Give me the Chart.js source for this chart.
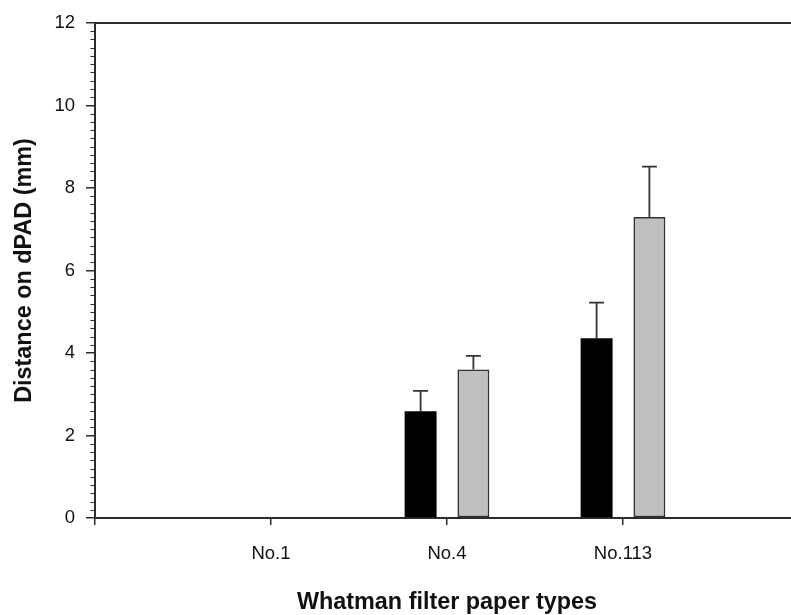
<!DOCTYPE html>
<html>
<head>
<meta charset="utf-8">
<script src="https://cdn.jsdelivr.net/npm/chart.js@4"></script>
<style>
  html, body { margin: 0; padding: 0; background: #ffffff; overflow: hidden; }
  #wrap { width: 817px; height: 615px; }
</style>
</head>
<body>
<div id="wrap"><canvas id="c" width="817" height="615"></canvas></div>
<script>
// ---- data ----
const categories = ['No.1', 'No.4', 'No.113'];
const seriesBlack = [0, 2.59, 4.36];
const errorsBlack = [0, 0.49, 0.86];
const seriesGray = [0, 3.60, 7.30];
const errorsGray = [0, 0.33, 1.22];
const yTickValues = [0, 2, 4, 6, 8, 10, 12];
const yMinorStep = 0.2;
const xTitle = 'Whatman filter paper types';
const yTitle = 'Distance on dPAD (mm)';

const FONT = "'Liberation Sans', Arial, sans-serif";
const AXIS = '#2b2b2b';

function toPoints(vals) {
  return vals.map((v, i) => ({ x: i + 1, y: v }));
}

const errorBars = {
  id: 'errorBars',
  afterDatasetsDraw(chart) {
    const ctx = chart.ctx;
    const ys = chart.scales.y;
    chart.data.datasets.forEach((ds, di) => {
      const meta = chart.getDatasetMeta(di);
      meta.data.forEach((bar, j) => {
        const err = ds.errors[j];
        const val = ds.data[j].y;
        if (!err) return;
        const yTop = ys.getPixelForValue(val + err);
        ctx.save();
        ctx.strokeStyle = '#333333';
        ctx.lineWidth = 1.8;
        ctx.beginPath();
        ctx.moveTo(bar.x, bar.y);
        ctx.lineTo(bar.x, yTop);
        ctx.moveTo(bar.x - 7.5, yTop);
        ctx.lineTo(bar.x + 7.5, yTop);
        ctx.stroke();
        ctx.restore();
      });
    });
  }
};

const frame = {
  id: 'frame',
  afterDraw(chart) {
    const ctx = chart.ctx;
    const a = chart.chartArea;
    const ys = chart.scales.y;
    ctx.save();
    ctx.strokeStyle = AXIS;
    ctx.lineWidth = 2;
    // top frame line
    ctx.beginPath();
    ctx.moveTo(a.left, a.top);
    ctx.lineTo(chart.width, a.top);
    ctx.stroke();
    // minor ticks on y axis
    const majors = new Set(yTickValues.map(v => Math.round(v * 10)));
    const yMax = yTickValues[yTickValues.length - 1];
    ctx.lineWidth = 1.2;
    ctx.beginPath();
    for (let k = 0; k * yMinorStep <= yMax + 1e-9; k++) {
      const v = k * yMinorStep;
      if (majors.has(Math.round(v * 10))) continue;
      const py = Math.round(ys.getPixelForValue(v)) + 0.5;
      ctx.moveTo(a.left - 4.5, py);
      ctx.lineTo(a.left, py);
    }
    ctx.stroke();
    ctx.restore();
  }
};

new Chart(document.getElementById('c'), {
  type: 'bar',
  data: {
    datasets: [
      {
        label: 'A',
        data: toPoints(seriesBlack),
        errors: errorsBlack,
        backgroundColor: '#000000',
        borderColor: '#000000',
        borderWidth: 0
      },
      {
        label: 'B',
        data: toPoints(seriesGray),
        errors: errorsGray,
        backgroundColor: '#c0c0c0',
        borderColor: '#333333',
        borderWidth: 1.8,
        borderSkipped: false
      }
    ]
  },
  options: {
    responsive: false,
    animation: false,
    devicePixelRatio: 1,
    categoryPercentage: 0.6,
    barPercentage: 0.605,
    layout: { padding: { top: 23, right: 12, bottom: 0, left: 0 } },
    plugins: {
      legend: { display: false },
      tooltip: { enabled: false }
    },
    scales: {
      x: {
        type: 'linear',
        offset: false,
        min: 0,
        max: categories.length + 1,
        afterBuildTicks(scale) {
          const t = [];
          for (let i = 0; i <= categories.length + 1; i++) t.push({ value: i });
          scale.ticks = t;
        },
        afterFit(scale) { scale.height = 97; },
        grid: {
          offset: false,
          drawOnChartArea: false,
          drawTicks: true,
          tickLength: 7,
          color: AXIS,
          lineWidth: 1.5
        },
        border: { display: true, color: AXIS, width: 2 },
        ticks: {
          padding: 18,
          color: '#111111',
          font: { family: FONT, size: 18.5 },
          maxRotation: 0,
          autoSkip: false,
          callback: (v) => categories[v - 1] || ''
        },
        title: {
          display: true,
          text: xTitle,
          color: '#111111',
          font: { family: FONT, size: 23.4, weight: 'bold', lineHeight: 1.1 },
          padding: { top: 0, bottom: 0 }
        }
      },
      y: {
        min: yTickValues[0],
        max: yTickValues[yTickValues.length - 1],
        afterBuildTicks(scale) {
          scale.ticks = yTickValues.map(v => ({ value: v }));
        },
        afterFit(scale) { scale.width = 95; },
        grid: {
          drawOnChartArea: false,
          drawTicks: true,
          tickLength: 9,
          color: AXIS,
          lineWidth: 1.5
        },
        border: { display: true, color: AXIS, width: 2 },
        ticks: {
          padding: 11,
          color: '#111111',
          font: { family: FONT, size: 18.5 },
          callback: (v) => String(v)
        },
        title: {
          display: true,
          text: yTitle,
          color: '#111111',
          font: { family: FONT, size: 23.4, weight: 'bold' },
          padding: { top: 11, bottom: 0 }
        }
      }
    }
  },
  plugins: [errorBars, frame]
});
</script>
</body>
</html>
